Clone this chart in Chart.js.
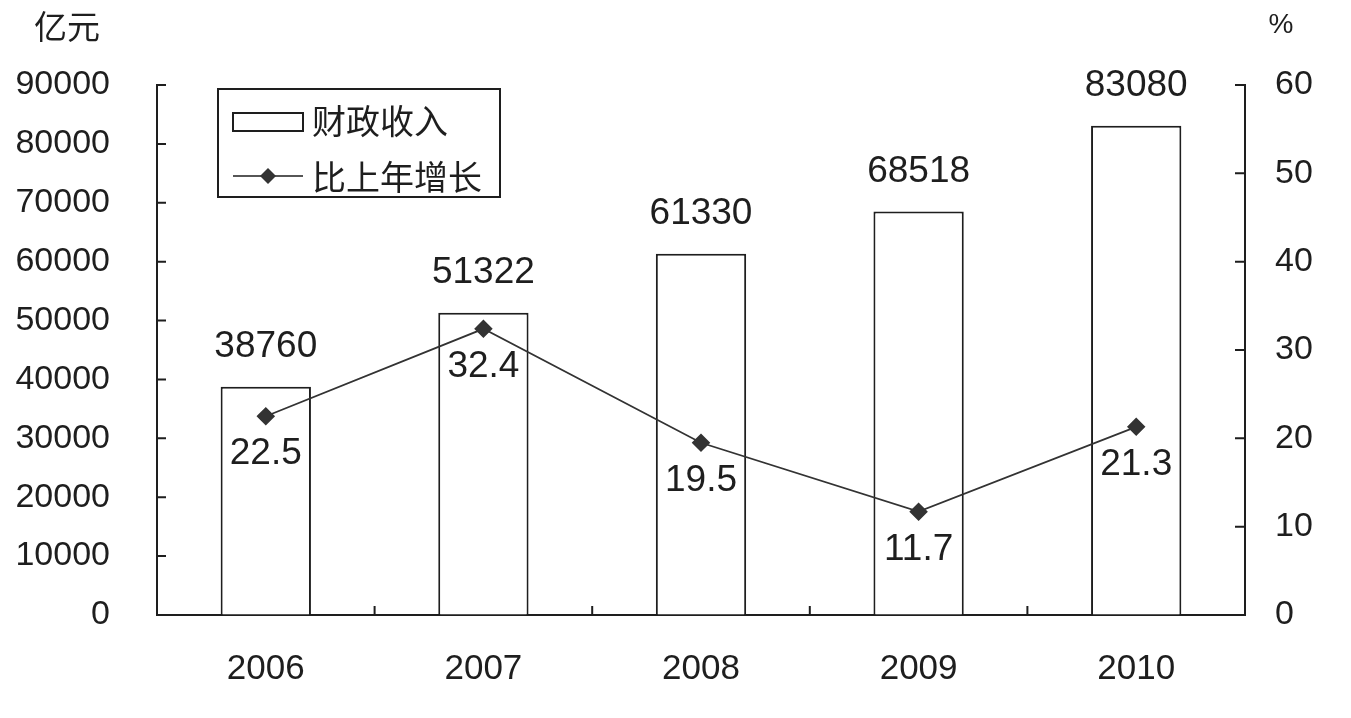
<!DOCTYPE html>
<html>
<head>
<meta charset="utf-8">
<script src="https://cdn.jsdelivr.net/npm/chart.js@4.4.1/dist/chart.umd.min.js"></script>
<style>
  html, body { margin: 0; padding: 0; background: #fff; }
  #wrap { width: 1351px; height: 718px; }
</style>
</head>
<body>
<div id="wrap"><canvas id="chart" width="1351" height="718"></canvas></div>
<script>
"use strict";

// data
const years = ["2006", "2007", "2008", "2009", "2010"];
const revenue = [38760, 51322, 61330, 68518, 83080];   // 亿元
const growth = [22.5, 32.4, 19.5, 11.7, 21.3];         // %
const leftTicks = [0, 10000, 20000, 30000, 40000, 50000, 60000, 70000, 80000, 90000];
const rightTicks = [0, 10, 20, 30, 40, 50, 60];

const FONT = 'Liberation Sans, Arial, "Noto Sans CJK SC", sans-serif';
const CJK = '"Noto Sans CJK SC", "Liberation Sans", sans-serif';
const INK = '#1e1e1e';

// small ticks pointing into the plot, plus value labels, unit labels and the boxed legend
const extras = {
    id: 'extras',
    afterDraw(chart) {
        const ctx = chart.ctx;
        const area = chart.chartArea;
        const yL = chart.scales.y, yR = chart.scales.y1;
        ctx.save();
        ctx.strokeStyle = INK;
        ctx.lineWidth = 2;
        ctx.beginPath();
        leftTicks.forEach(v => {
            const py = yL.getPixelForValue(v);
            ctx.moveTo(area.left, py);
            ctx.lineTo(area.left + 9, py);
        });
        rightTicks.forEach(v => {
            const py = yR.getPixelForValue(v);
            ctx.moveTo(area.right, py);
            ctx.lineTo(area.right - 10, py);
        });
        const step = (area.right - area.left) / years.length;
        for (let i = 1; i < years.length; i++) {
            const px = area.left + i * step;
            ctx.moveTo(px, area.bottom);
            ctx.lineTo(px, area.bottom - 9);
        }
        ctx.stroke();

        // value labels
        ctx.fillStyle = INK;
        ctx.textAlign = 'center';
        ctx.textBaseline = 'middle';
        ctx.font = '37px ' + FONT;
        chart.getDatasetMeta(0).data.forEach((bar, i) => {
            ctx.fillText(String(revenue[i]), bar.x, bar.y - 40);
        });
        chart.getDatasetMeta(1).data.forEach((pt, i) => {
            ctx.fillText(growth[i].toFixed(1), pt.x, pt.y + 38);
        });

        // unit labels
        ctx.font = '33px ' + CJK;
        ctx.fillText('亿元', 67, 26);
        ctx.font = '28px ' + FONT;
        ctx.fillText('%', 1281, 25);

        // legend box
        ctx.lineWidth = 2;
        ctx.strokeRect(218, 89, 282, 108);
        ctx.fillStyle = '#fff';
        ctx.fillRect(233, 113, 70, 18);
        ctx.strokeRect(233, 113, 70, 18);
        ctx.beginPath();
        ctx.lineWidth = 1.6;
        ctx.moveTo(233, 176);
        ctx.lineTo(303, 176);
        ctx.stroke();
        ctx.fillStyle = '#333';
        ctx.beginPath();
        ctx.moveTo(268, 168);
        ctx.lineTo(276, 176);
        ctx.lineTo(268, 184);
        ctx.lineTo(260, 176);
        ctx.closePath();
        ctx.fill();
        ctx.fillStyle = INK;
        ctx.textAlign = 'left';
        ctx.font = '34px ' + CJK;
        ctx.fillText('财政收入', 312, 121);
        ctx.fillText('比上年增长', 312, 177);
        ctx.restore();
    }
};

new Chart(document.getElementById('chart'), {
    type: 'bar',
    data: {
        labels: years,
        datasets: [{
            type: 'bar',
            label: '财政收入',
            data: revenue,
            yAxisID: 'y',
            backgroundColor: '#fff',
            borderColor: INK,
            borderWidth: 2,
            borderSkipped: 'bottom',
            barPercentage: 0.415,
            categoryPercentage: 1,
            order: 2
        }, {
            type: 'line',
            label: '比上年增长',
            data: growth,
            yAxisID: 'y1',
            borderColor: '#333',
            borderWidth: 1.8,
            pointStyle: 'rectRot',
            pointRadius: 8,
            pointBackgroundColor: '#333',
            pointBorderColor: '#333',
            tension: 0,
            order: 1
        }]
    },
    options: {
        responsive: false,
        animation: false,
        layout: { padding: { top: 85, left: 0, right: 0, bottom: 0 } },
        plugins: {
            legend: { display: false },
            tooltip: { enabled: false }
        },
        scales: {
            x: {
                offset: true,
                grid: { display: false, drawTicks: false },
                border: { display: true, color: INK, width: 2 },
                ticks: { color: INK, font: { family: FONT, size: 35 }, padding: 33 },
                afterFit(scale) { scale.height = 103; }
            },
            y: {
                position: 'left',
                min: 0,
                max: 90000,
                grid: { drawOnChartArea: false, drawTicks: false },
                border: { display: true, color: INK, width: 2 },
                ticks: {
                    stepSize: 10000,
                    color: INK,
                    font: { family: FONT, size: 34 },
                    padding: 47,
                    callback: v => String(v)
                },
                afterFit(scale) { scale.width = 157; }
            },
            y1: {
                position: 'right',
                min: 0,
                max: 60,
                grid: { drawOnChartArea: false, drawTicks: false },
                border: { display: true, color: INK, width: 2 },
                ticks: {
                    stepSize: 10,
                    color: INK,
                    font: { family: FONT, size: 34 },
                    padding: 30,
                    callback: v => String(v)
                },
                afterFit(scale) { scale.width = 106; }
            }
        }
    },
    plugins: [extras]
});
</script>
</body>
</html>
